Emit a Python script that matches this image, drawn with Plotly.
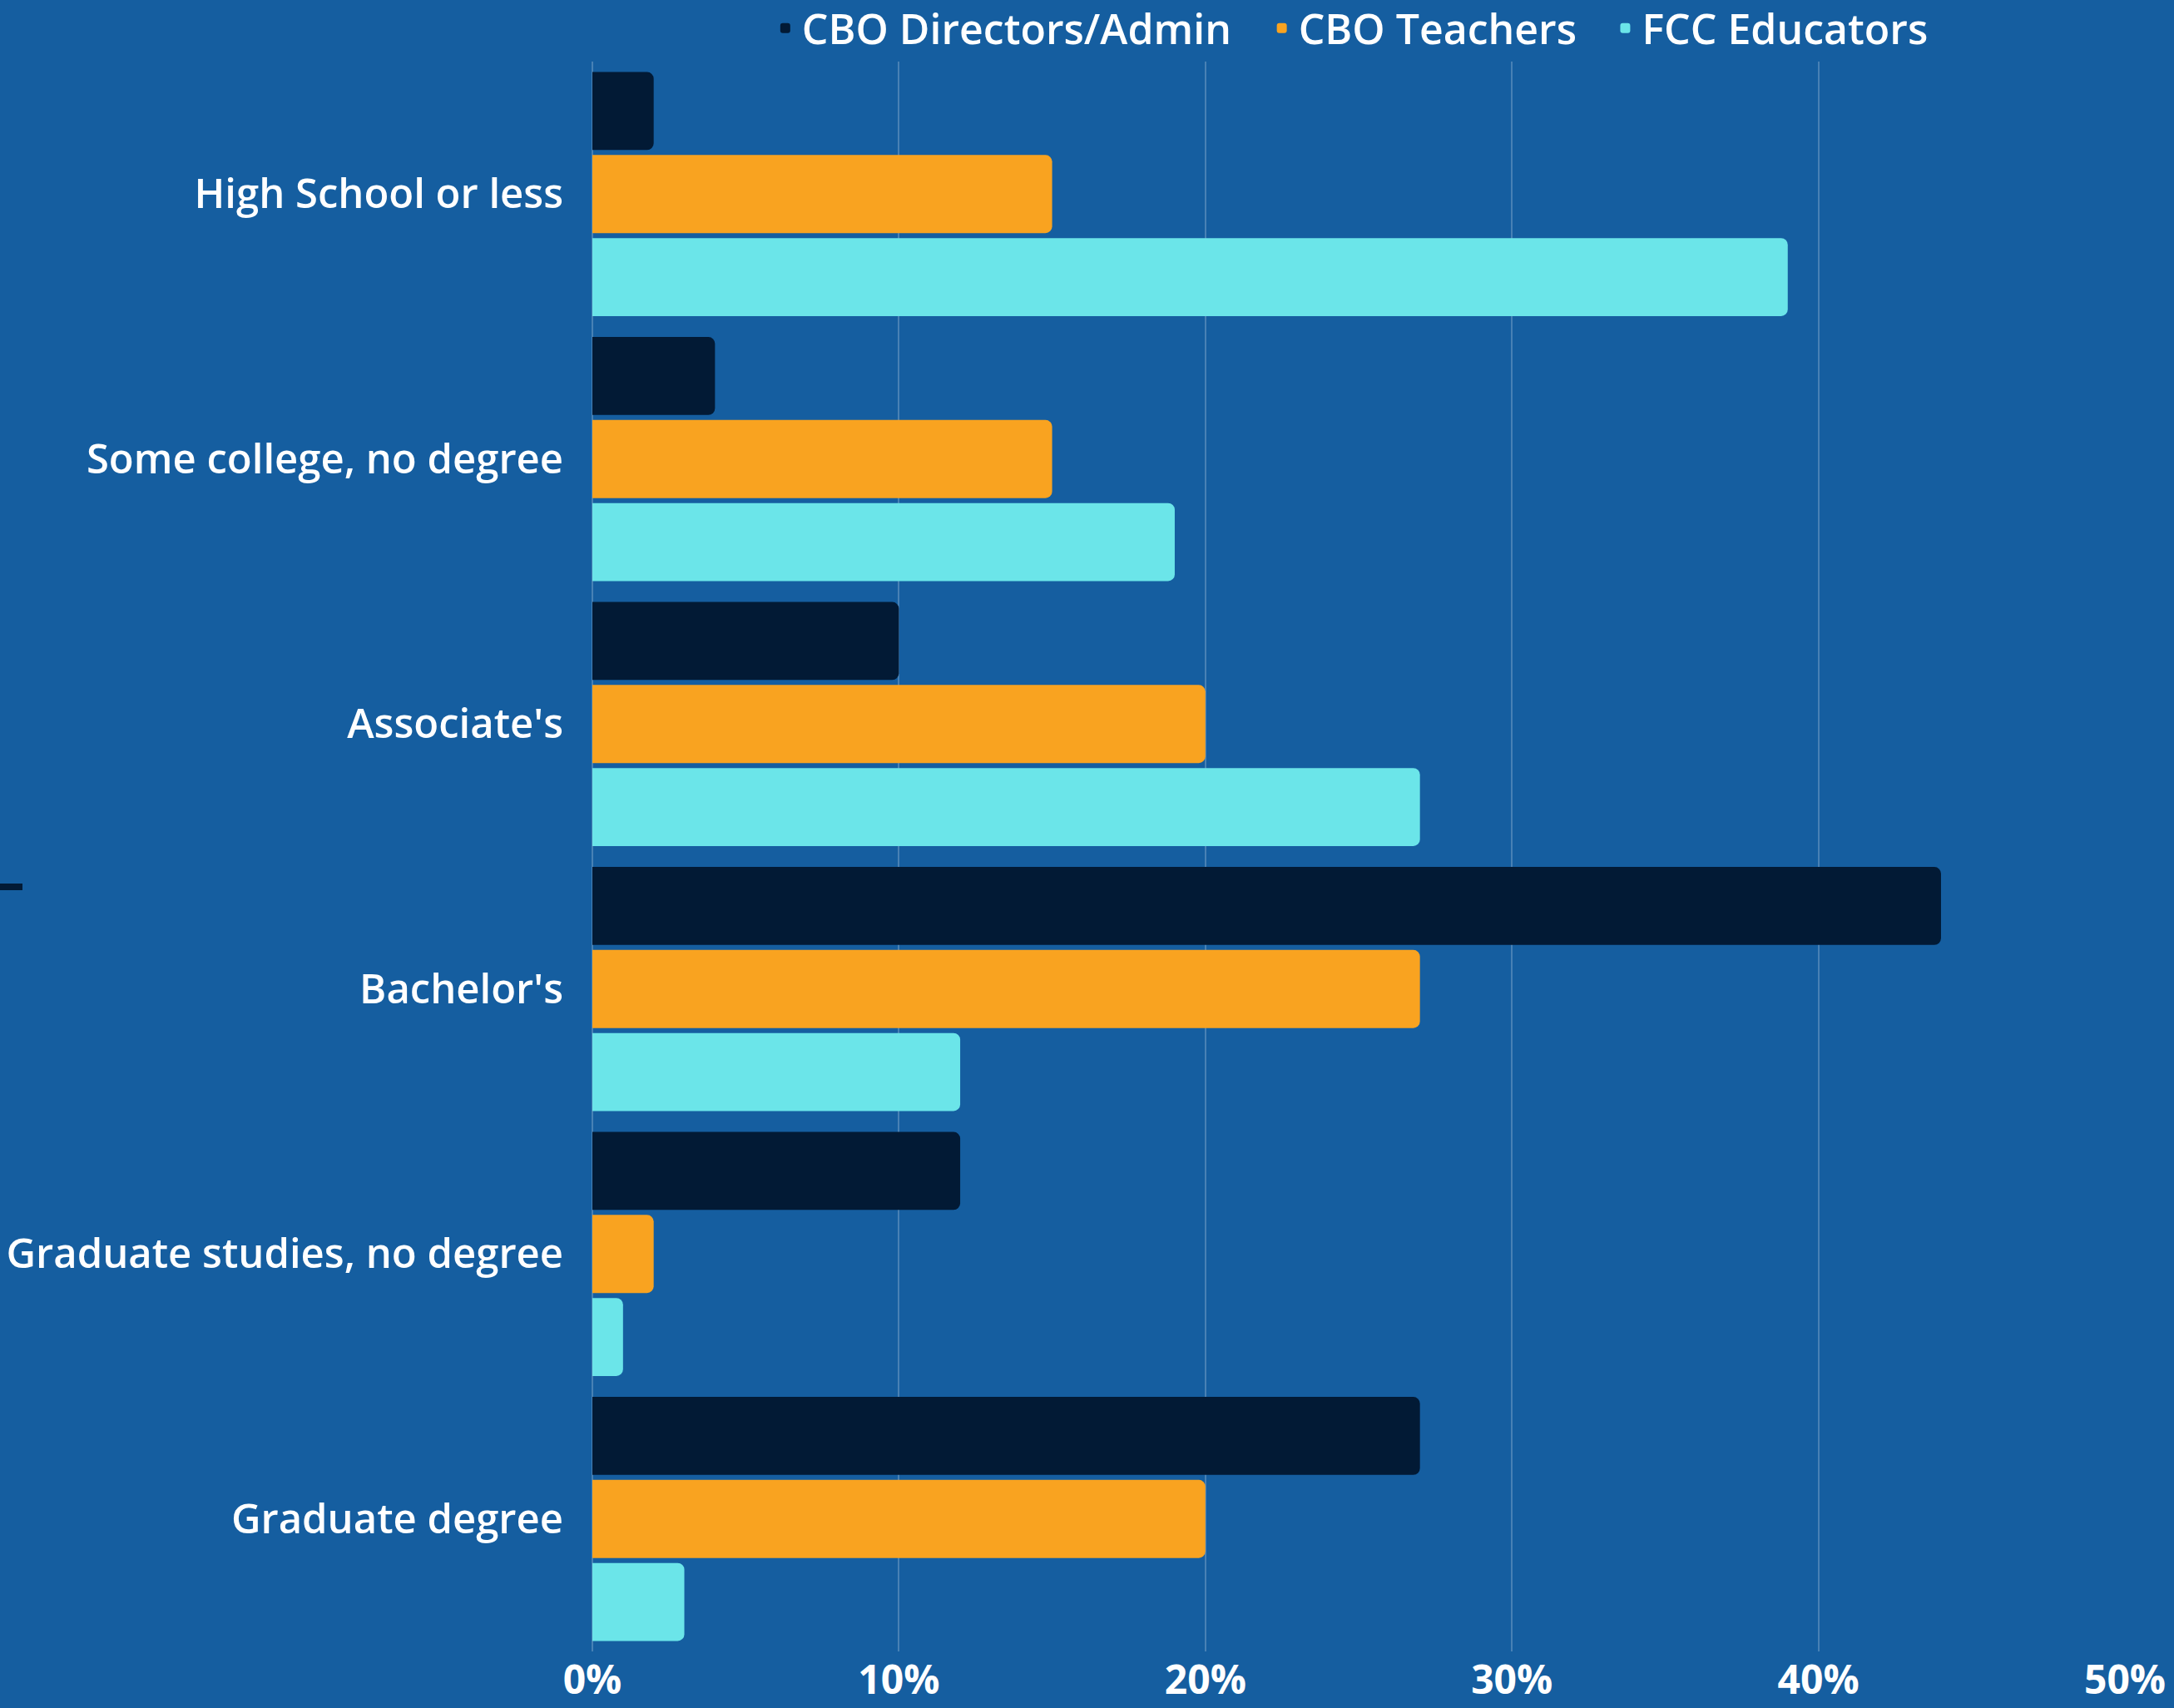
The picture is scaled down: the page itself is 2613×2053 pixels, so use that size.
import plotly.graph_objects as go

categories = ["High School or less", "Some college, no degree", "Associate's",
              "Bachelor's", "Graduate studies, no degree", "Graduate degree"]
directors = [2, 4, 10, 44, 12, 27]
teachers = [15, 15, 20, 27, 2, 20]
fcc = [39, 19, 27, 12, 1, 3]
series_names = ["CBO Directors/Admin", "CBO Teachers", "FCC Educators"]
series_colors = ["#021A35", "#F9A320", "#6BE5E9"]
tick_vals = [0, 10, 20, 30, 40, 50]
tick_text = ["0%", "10%", "20%", "30%", "40%", "50%"]

BG = "#155EA0"
FONT = "Open Sans"

legend_ids = ["legend", "legend2", "legend3"]
legend_x = [0.1150, 0.4390, 0.6631]

fig = go.Figure()
for name, vals, col, lid in zip(series_names, [directors, teachers, fcc], series_colors, legend_ids):
    fig.add_trace(go.Bar(y=categories, x=vals, name=name, orientation="h", legend=lid,
                         marker=dict(color=col, line=dict(width=0))))

legend_common = dict(orientation="h", y=1.021, yanchor="middle", xanchor="left",
                     font=dict(size=50, family=FONT, weight=600, color="white"),
                     itemwidth=30, bgcolor="rgba(0,0,0,0)", borderwidth=0)

fig.update_layout(
    width=2613, height=2053,
    paper_bgcolor=BG, plot_bgcolor=BG,
    margin=dict(l=712, r=59, t=74, b=68, autoexpand=False),
    barmode="group", bargap=0.06, bargroupgap=0.06, barcornerradius=8,
    font=dict(family=FONT, color="white", size=50, weight=600),
    showlegend=True,
    legend=dict(x=legend_x[0], **legend_common),
    legend2=dict(x=legend_x[1], **legend_common),
    legend3=dict(x=legend_x[2], **legend_common),
    xaxis=dict(range=[0, 50], tickvals=tick_vals, ticktext=tick_text,
               showgrid=True, gridcolor="rgba(255,255,255,0.22)", gridwidth=2,
               zeroline=True, zerolinecolor="rgba(255,255,255,0.22)", zerolinewidth=2,
               showline=False, ticks="", ticklabelstandoff=2,
               tickfont=dict(size=48, weight=700)),
    yaxis=dict(autorange="reversed", showgrid=False, showline=False, ticks="",
               ticklabelstandoff=34, tickfont=dict(size=49, weight=600)),
    shapes=[dict(type="rect", xref="paper", yref="paper",
                 x0=-712/1842, x1=-685/1842, y0=(1985-1070)/1911, y1=(1985-1062)/1911,
                 fillcolor="#021A35", line=dict(width=0))],
)

fig.write_html("out.html", config={"displayModeBar": False},
               post_script="document.body.style.margin='0';document.body.style.padding='0';")
